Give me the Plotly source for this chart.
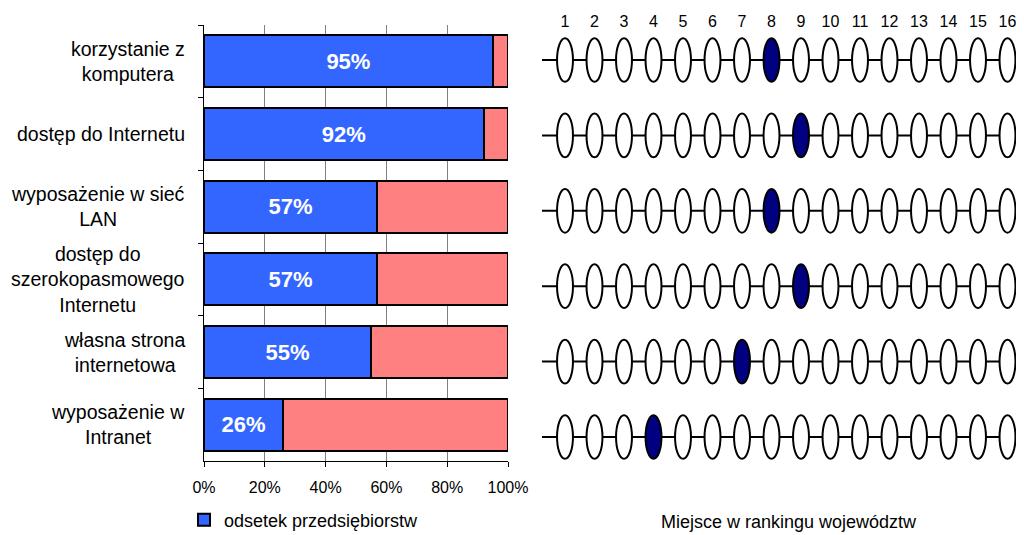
import plotly.graph_objects as go

# categories (top to bottom)
categories = [
    "korzystanie z<br>komputera",
    "dostęp do Internetu",
    "wyposażenie w sieć<br>LAN",
    "dostęp do<br>szerokopasmowego<br>Internetu",
    "własna strona<br>internetowa",
    "wyposażenie w<br>Intranet",
]
cat_keys = ["komp", "inet", "lan", "broad", "www", "intra"]
share = [95, 92, 57, 57, 55, 26]          # odsetek przedsiębiorstw (%)
rest = [100 - v for v in share]
rank = [8, 9, 8, 9, 7, 4]                  # miejsce w rankingu województw
positions = list(range(1, 17))

# page body has an 8px margin, so the figure is shifted by that much
OFF = 8
W, H = 1024 - OFF, 535 - OFF
FONT = "Liberation Sans, Arial, sans-serif"


def px_x(p):
    return (p - OFF) / W


def px_y(p):
    return 1 - (p - OFF) / H


fig = go.Figure()

# stacked horizontal bars
fig.add_trace(go.Bar(
    y=cat_keys, x=share, orientation="h",
    marker=dict(color="#3366FF", line=dict(color="black", width=2)),
    text=[f"{v}%" for v in share], texttemplate="%{text}",
    textposition="inside", insidetextanchor="middle",
    textangle=0, constraintext="none",
    textfont=dict(family=FONT, size=22, color="white", weight="bold"),
    name="odsetek przedsiębiorstw", showlegend=True,
    xaxis="x", yaxis="y",
))
fig.add_trace(go.Bar(
    y=cat_keys, x=rest, orientation="h",
    marker=dict(color="#FF8080", line=dict(color="black", width=2)),
    hoverinfo="skip", showlegend=False,
    xaxis="x", yaxis="y",
))

# category labels (centered lines, right edge aligned)
for key, label in zip(cat_keys, categories):
    fig.add_annotation(
        text=label, xref="paper", x=px_x(187), xanchor="right", align="center",
        yref="y", y=key, yanchor="middle", showarrow=False,
        font=dict(family=FONT, size=19.5, color="black"),
    )

# ranking rows: baseline + ellipses
shapes = []
for i, r in enumerate(rank, start=1):
    shapes.append(dict(type="line", xref="x2 domain", x0=0, x1=1,
                       yref="y2", y0=i, y1=i,
                       line=dict(color="black", width=2)))
for i, r in enumerate(rank, start=1):
    for p in positions:
        shapes.append(dict(
            type="circle", xref="x2", yref="y2",
            x0=p - 0.27, x1=p + 0.27, y0=i - 0.29, y1=i + 0.29,
            fillcolor="#000080" if p == r else "white",
            line=dict(color="black", width=2),
        ))

# invisible helper trace so x2/y2 axes exist
fig.add_trace(go.Scatter(x=positions, y=[1] * len(positions), mode="markers",
                         marker=dict(opacity=0), hoverinfo="skip",
                         showlegend=False, xaxis="x2", yaxis="y2"))

fig.add_annotation(
    text="Miejsce w rankingu województw", xref="paper", yref="paper",
    x=px_x(789), y=px_y(522), xanchor="center", yanchor="middle",
    showarrow=False, font=dict(family=FONT, size=18, color="black"),
)

fig.update_layout(
    width=W, height=H,
    margin=dict(l=0, r=0, t=0, b=0, autoexpand=False),
    paper_bgcolor="white", plot_bgcolor="white",
    barmode="stack", bargap=0.284,
    font=dict(family=FONT, color="black"),
    shapes=shapes,
    showlegend=True,
    legend=dict(orientation="h", x=px_x(184), xanchor="left",
                y=px_y(520), yanchor="middle",
                font=dict(family=FONT, size=18), bgcolor="rgba(0,0,0,0)"),
    xaxis=dict(domain=[px_x(204), px_x(508)], range=[0, 100], dtick=20,
               ticksuffix="%", ticks="outside", ticklen=5, tickcolor="black",
               showline=True, linecolor="black", linewidth=1,
               showgrid=True, gridcolor="#808080", gridwidth=1,
               zeroline=False, tickfont=dict(family=FONT, size=16),
               ticklabelstandoff=7, automargin=False, fixedrange=True),
    yaxis=dict(domain=[px_y(461), px_y(25)], type="category",
               categoryarray=cat_keys, autorange="reversed",
               showticklabels=False, ticks="outside", ticklen=5,
               tickcolor="black", tickson="boundaries",
               showline=True, linecolor="black", linewidth=1,
               showgrid=False, zeroline=False, automargin=False,
               fixedrange=True),
    xaxis2=dict(domain=[px_x(542), 1.0],
                range=[1 + (542 - 565) / 29.5, 1 + (1024 - 565) / 29.5],
                side="top", anchor="free", position=px_y(30),
                tickvals=positions, ticks="", showline=False, showgrid=False,
                zeroline=False, tickfont=dict(family=FONT, size=16),
                automargin=False, fixedrange=True),
    yaxis2=dict(domain=[px_y(474.7), px_y(22.3)], range=[6.5, 0.5],
                anchor="x2", visible=False, automargin=False,
                fixedrange=True),
)

fig.write_html("out.html")
